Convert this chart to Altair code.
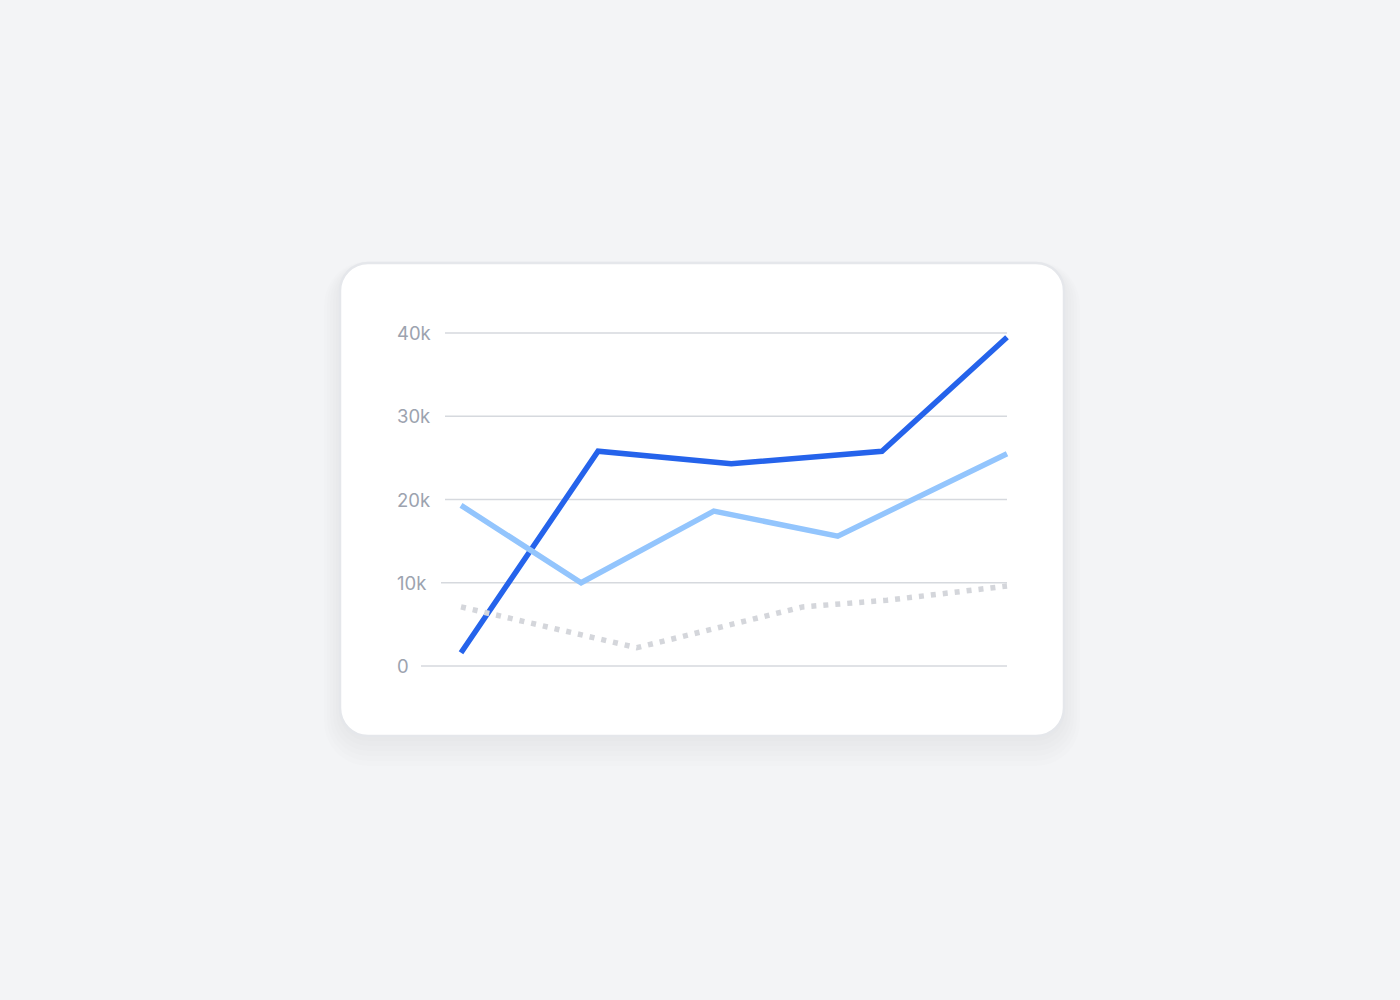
import altair as alt
import pandas as pd

# ---- data ----
dark_x = [0, 25.1, 49.5, 77.1, 100]
dark_y = [1600, 25800, 24300, 25800, 39500]
light_x = [0, 22.0, 46.3, 69.0, 100]
light_y = [19300, 10000, 18600, 15600, 25500]
gray_x = [0, 32.2, 62.6, 78.0, 100]
gray_y = [7100, 2200, 7100, 7900, 9600]
tick_values = [0, 10000, 20000, 30000, 40000]
tick_labels = ["0", "10k", "20k", "30k", "40k"]

# ---- styling / layout ----
W, H = 724, 473
X_RANGE = [121, 667]
Y_RANGE = [403, 70]
LABEL_X = 57
grid_start = [-7.33, -3.66, -2.93, -2.93, -2.93]  # gridlines begin just after labels (data units)

dark_df = pd.DataFrame({"x": dark_x, "y": dark_y})
light_df = pd.DataFrame({"x": light_x, "y": light_y})
gray_df = pd.DataFrame({"x": gray_x, "y": gray_y})
grid_df = pd.DataFrame({"v": tick_values, "label": tick_labels,
                        "x0": grid_start, "x1": [100] * len(tick_values)})
one = pd.DataFrame({"k": [0]})

xs = alt.Scale(domain=[0, 100], range=X_RANGE)
ys = alt.Scale(domain=[0, 40000], range=Y_RANGE)

# card shadow + card
layers = []
for i in range(6):
    g = 1 + i * 3
    layers.append(
        alt.Chart(one).mark_rect(color="#0f172a", opacity=0.006, cornerRadius=28 + g).encode(
            x=alt.value(-g), x2=alt.value({"expr": f"width + {g}"}),
            y=alt.value(-g + 4 + i * 2), y2=alt.value({"expr": f"height + {g + 4 + i * 2}"}),
        )
    )
card = alt.Chart(one).mark_rect(fill="white", stroke="#e5e7eb", strokeWidth=2.5, cornerRadius=28).encode(
    x=alt.value(0), x2=alt.value("width"), y=alt.value(0), y2=alt.value("height"))
layers.append(card)

grid = alt.Chart(grid_df).mark_rule(color="#d6d9de", strokeWidth=1.3).encode(
    x=alt.X("x0:Q", scale=xs, axis=None),
    x2="x1:Q",
    y=alt.Y("v:Q", scale=ys, axis=None),
)
labels = alt.Chart(grid_df).mark_text(
    align="left", baseline="middle", font="Inter", fontSize=18.5, color="#9ca3af", dy=1
).encode(
    x=alt.value(LABEL_X),
    y=alt.Y("v:Q", scale=ys, axis=None),
    text="label:N",
)
layers += [grid, labels]

dark = alt.Chart(dark_df).mark_line(color="#2563eb", strokeWidth=5.5).encode(
    x=alt.X("x:Q", scale=xs, axis=None), y=alt.Y("y:Q", scale=ys, axis=None))
light = alt.Chart(light_df).mark_line(color="#93c5fd", strokeWidth=5.5).encode(
    x=alt.X("x:Q", scale=xs, axis=None), y=alt.Y("y:Q", scale=ys, axis=None))
gray = alt.Chart(gray_df).mark_line(color="#d4d6db", strokeWidth=5.5, strokeDash=[5, 7]).encode(
    x=alt.X("x:Q", scale=xs, axis=None), y=alt.Y("y:Q", scale=ys, axis=None))
layers += [dark, light, gray]

chart = alt.layer(*layers).properties(
    width=W, height=H,
    background="#f3f4f6",
    padding={"left": 340, "top": 263, "right": 1400 - 340 - W, "bottom": 1000 - 263 - H},
    autosize=alt.AutoSizeParams(type="none"),
).configure_view(stroke=None, fill=None)

chart.save("out.html", embed_options={"renderer": "svg", "actions": False})
